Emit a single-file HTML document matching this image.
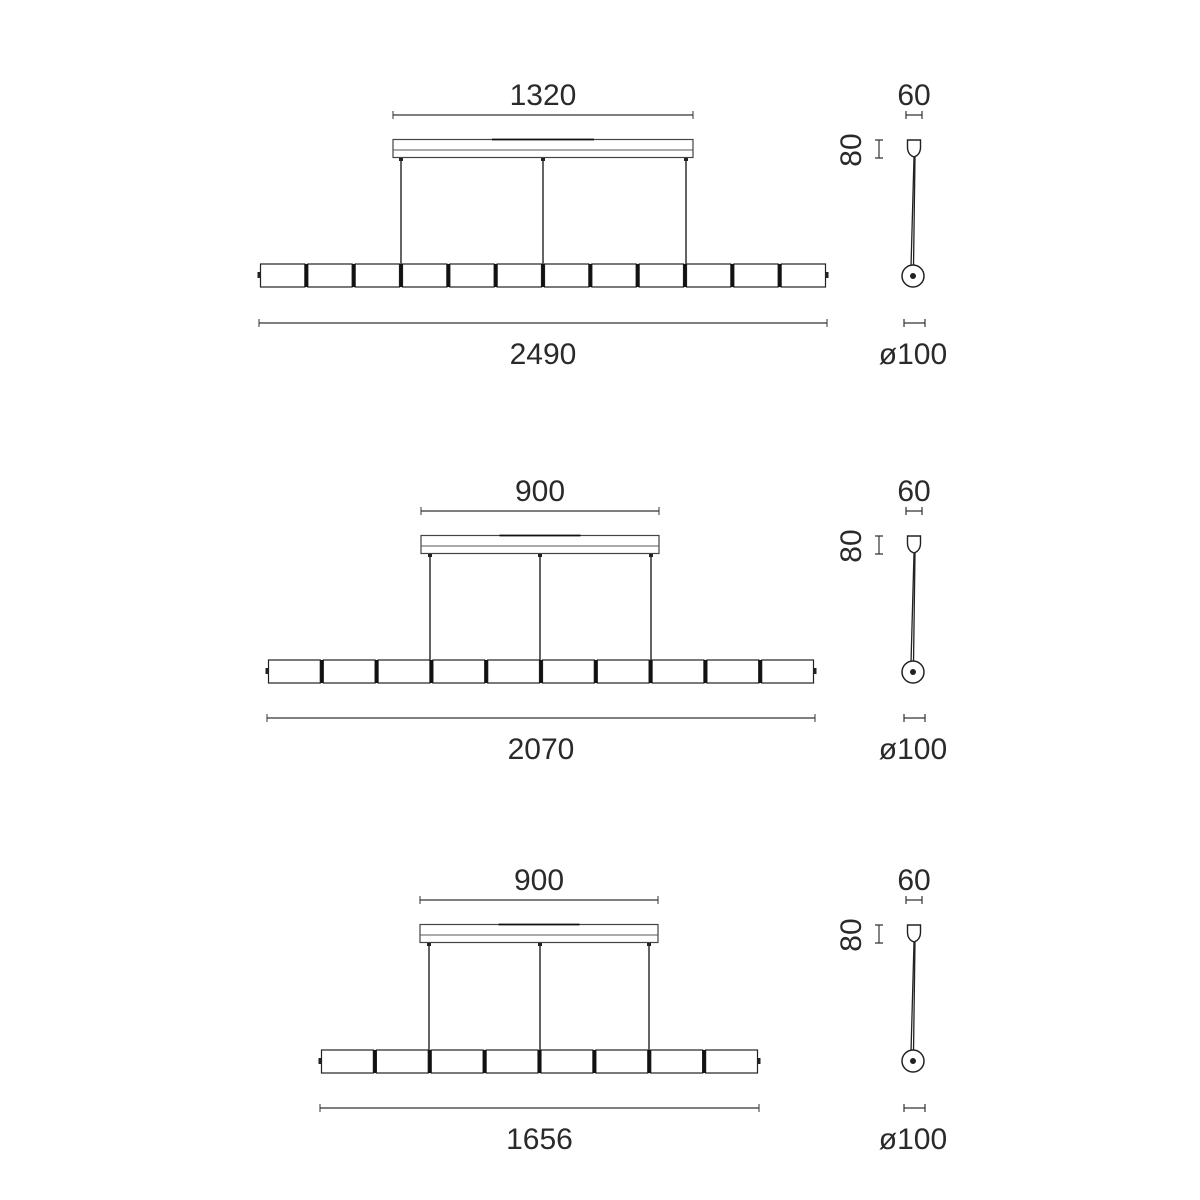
<!DOCTYPE html>
<html><head><meta charset="utf-8"><style>
html,body{margin:0;padding:0;background:#fff;width:1200px;height:1200px;overflow:hidden}
svg text{font-family:"Liberation Sans",sans-serif;font-size:30px;fill:#2a2a2a;text-anchor:middle}
</style></head><body>
<svg id="s" width="1200" height="1200" viewBox="0 0 1200 1200" xmlns="http://www.w3.org/2000/svg"></svg>
<script>
const S=document.getElementById('s');let h='';
function sec(o){
 const {dy,cx0,cx1,wires,tx0,tx1,n,top,bot,tubeY,dimY}=o;
 h+=`<line x1="${cx0}" y1="${dy+115}" x2="${cx1}" y2="${dy+115}" stroke="#333" stroke-width="1.3"/>`;
 h+=`<line x1="${cx0}" y1="${dy+111}" x2="${cx0}" y2="${dy+119}" stroke="#333"/><line x1="${cx1}" y1="${dy+111}" x2="${cx1}" y2="${dy+119}" stroke="#333"/>`;
 h+=`<text x="${(cx0+cx1)/2}" y="${dy+105}">${top}</text>`;
 h+=`<rect x="${cx0}" y="${dy+139.5}" width="${cx1-cx0}" height="18" fill="#fff" stroke="#444" stroke-width="1.2"/>`;
 h+=`<line x1="${cx0}" y1="${dy+150}" x2="${cx1}" y2="${dy+150}" stroke="#555" stroke-width="1"/>`;
 const m=(cx0+cx1)/2,w=(cx1-cx0)*0.17;
 h+=`<line x1="${m-w}" y1="${dy+139.5}" x2="${m+w}" y2="${dy+139.5}" stroke="#111" stroke-width="1.8"/>`;
 for(const x of wires){h+=`<line x1="${x}" y1="${dy+158}" x2="${x}" y2="${tubeY}" stroke="#222" stroke-width="1.4"/><rect x="${x-2}" y="${dy+158}" width="4" height="3" fill="#222"/>`;}
 const sw=(tx1-tx0)/n;
 for(let i=0;i<n;i++){const x=tx0+i*sw;h+=`<rect x="${x+1.5}" y="${tubeY}" width="${sw-3}" height="23" fill="#fff" stroke="#222" stroke-width="1.2"/>`;
  if(i>0)h+=`<rect x="${x-1.5}" y="${tubeY}" width="3" height="23" fill="#111"/>`;}
 h+=`<rect x="${tx0-1.5}" y="${tubeY+8}" width="2.5" height="6" fill="#222"/><rect x="${tx1-1}" y="${tubeY+8}" width="2.5" height="6" fill="#222"/>`;
 h+=`<line x1="${tx0}" y1="${dimY}" x2="${tx1}" y2="${dimY}" stroke="#333" stroke-width="1.3"/>`;
 h+=`<line x1="${tx0}" y1="${dimY-4}" x2="${tx0}" y2="${dimY+4}" stroke="#333"/><line x1="${tx1}" y1="${dimY-4}" x2="${tx1}" y2="${dimY+4}" stroke="#333"/>`;
 h+=`<text x="${(tx0+tx1)/2}" y="${dimY+41}">${bot}</text>`;
 h+=`<text x="914" y="${dy+105}">60</text>`;
 h+=`<path d="M906 ${dy+115}H922M906 ${dy+111}V${dy+119}M922 ${dy+111}V${dy+119}" stroke="#333" fill="none" stroke-width="1.2"/>`;
 h+=`<text transform="translate(861 ${dy+150}) rotate(-90)" y="0">80</text>`;
 h+=`<path d="M879 ${dy+140}V${dy+158}M875 ${dy+140}H883M875 ${dy+158}H883" stroke="#333" fill="none" stroke-width="1.2"/>`;
 h+=`<path d="M907.5 ${dy+140}H920.5V${dy+148}Q920 ${dy+155} 914 ${dy+157}Q908 ${dy+155} 907.5 ${dy+148}Z" fill="#fff" stroke="#222" stroke-width="1.4"/>`;
 h+=`<path d="M914 ${dy+157}L911 ${dy+267}M915 ${dy+157}L913.5 ${dy+267}" stroke="#222" stroke-width="1.3"/>`;
 h+=`<circle cx="913" cy="${dy+276}" r="11" fill="#fff" stroke="#222" stroke-width="1.5"/><circle cx="913" cy="${dy+276}" r="3" fill="#222"/>`;
 h+=`<path d="M904 ${dimY}H925M904 ${dimY-4}V${dimY+4}M925 ${dimY-4}V${dimY+4}" stroke="#333" fill="none" stroke-width="1.2"/>`;
 h+=`<text x="913" y="${dimY+41}">ø100</text>`;
}
sec({dy:0,cx0:393,cx1:693,wires:[401,543,686],tx0:259,tx1:827,n:12,top:1320,bot:2490,tubeY:264,dimY:323});
sec({dy:396,cx0:421,cx1:659,wires:[430,540,651],tx0:267,tx1:815,n:10,top:900,bot:2070,tubeY:660,dimY:718});
sec({dy:785,cx0:420,cx1:658,wires:[429,540,649],tx0:320,tx1:759,n:8,top:900,bot:1656,tubeY:1050,dimY:1108});
S.innerHTML=h;
</script>
</body></html>
